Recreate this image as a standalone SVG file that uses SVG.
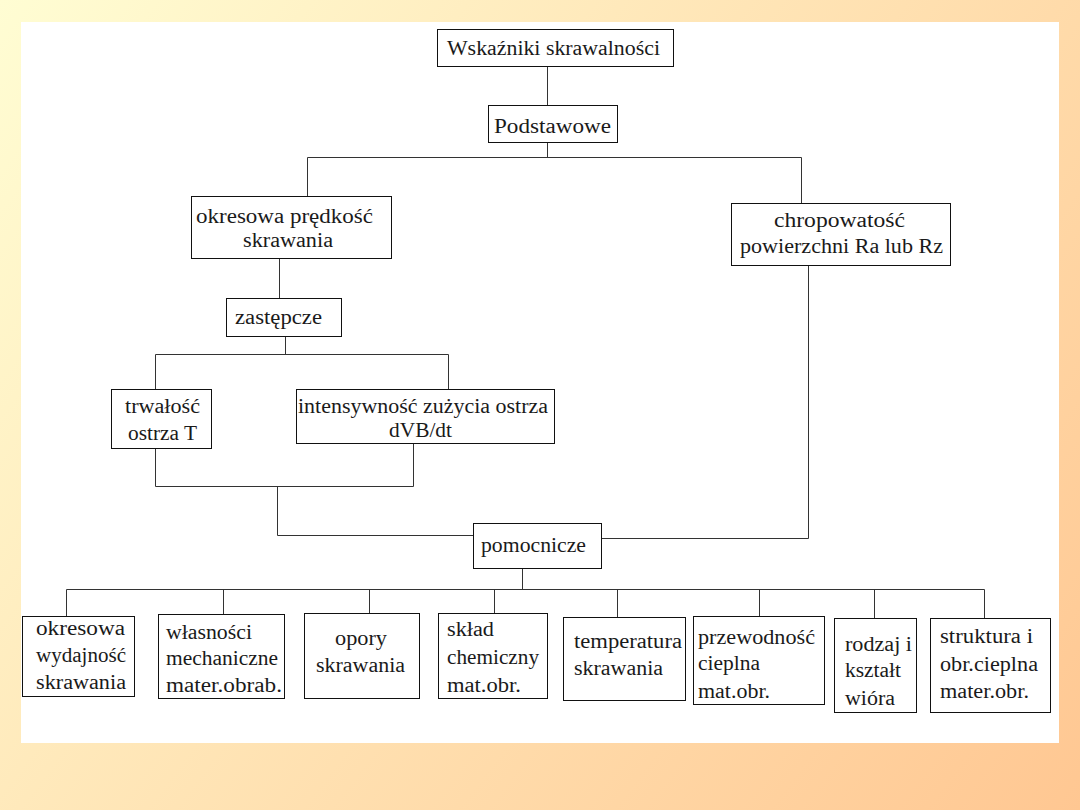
<svg xmlns="http://www.w3.org/2000/svg" width="1080" height="810" viewBox="0 0 1080 810">
<defs>
<linearGradient id="bg" x1="0" y1="0" x2="1080" y2="810" gradientUnits="userSpaceOnUse">
<stop offset="0" stop-color="#FFFDD3"/>
<stop offset="1" stop-color="#FFC792"/>
</linearGradient>
<style>
.box{fill:#fff;stroke:#111;stroke-width:1}
.ln{fill:none;stroke:#333;stroke-width:1}
text{font-family:"Liberation Serif","Times New Roman",serif;font-size:20px;fill:#1a1a1a}
</style>
</defs>
<rect width="1080" height="810" fill="url(#bg)"/>
<rect x="21" y="22" width="1038" height="721" fill="#fff"/>
<g id="connectors">
<path class="ln" d="M547.5,66 V105"/>
<path class="ln" d="M547.5,142 V157.5"/>
<path class="ln" d="M307.5,196 V157.5 H801.5 V203"/>
<path class="ln" d="M279.5,258 V298"/>
<path class="ln" d="M285.5,336 V354.5"/>
<path class="ln" d="M155.5,389 V354.5 H448.5 V389"/>
<path class="ln" d="M155.5,448 V486.5 H413.5 V443"/>
<path class="ln" d="M277.5,486.5 V535.5 H473"/>
<path class="ln" d="M808.5,265 V538.5 H602"/>
<path class="ln" d="M522.5,569 V589.5"/>
<path class="ln" d="M66.5,589.5 H984.5"/>
<path class="ln" d="M66.5,589.5 V616 M223.5,589.5 V614 M369.5,589.5 V613 M494.5,589.5 V613 M617.5,589.5 V617 M759.5,589.5 V616 M874.5,589.5 V618 M984.5,589.5 V618"/>
</g>
<g id="n-wskazniki">
<rect class="box" x="437.5" y="29.5" width="236" height="37"/>
<text x="447" y="55" textLength="213" lengthAdjust="spacingAndGlyphs">Wskaźniki skrawalności</text>
</g>
<g id="n-podstawowe">
<rect class="box" x="488.5" y="105.5" width="129" height="37"/>
<text x="494" y="133" textLength="117" lengthAdjust="spacingAndGlyphs">Podstawowe</text>
</g>
<g id="n-okresowa-predkosc">
<rect class="box" x="191.5" y="196.5" width="200" height="62"/>
<text x="196" y="223" textLength="177" lengthAdjust="spacingAndGlyphs">okresowa prędkość</text>
<text x="243" y="247" textLength="90" lengthAdjust="spacingAndGlyphs">skrawania</text>
</g>
<g id="n-chropowatosc">
<rect class="box" x="731.5" y="203.5" width="219" height="62"/>
<text x="774" y="227" textLength="131" lengthAdjust="spacingAndGlyphs">chropowatość</text>
<text x="740" y="253" textLength="203" lengthAdjust="spacingAndGlyphs">powierzchni Ra lub Rz</text>
</g>
<g id="n-zastepcze">
<rect class="box" x="226.5" y="298.5" width="115" height="38"/>
<text x="235" y="324" textLength="87" lengthAdjust="spacingAndGlyphs">zastępcze</text>
</g>
<g id="n-trwalosc">
<rect class="box" x="111.5" y="389.5" width="100" height="59"/>
<text x="125" y="413" textLength="75" lengthAdjust="spacingAndGlyphs">trwałość</text>
<text x="128" y="440" textLength="69" lengthAdjust="spacingAndGlyphs">ostrza T</text>
</g>
<g id="n-intensywnosc">
<rect class="box" x="296.5" y="389.5" width="258" height="54"/>
<text x="298" y="413" textLength="250" lengthAdjust="spacingAndGlyphs">intensywność zużycia ostrza</text>
<text x="389" y="437" textLength="63" lengthAdjust="spacingAndGlyphs">dVB/dt</text>
</g>
<g id="n-pomocnicze">
<rect class="box" x="473.5" y="523.5" width="128" height="45"/>
<text x="481" y="552" textLength="105" lengthAdjust="spacingAndGlyphs">pomocnicze</text>
</g>
<g id="n-wydajnosc">
<rect class="box" x="22.5" y="616.5" width="112" height="80"/>
<text x="36" y="635" textLength="89" lengthAdjust="spacingAndGlyphs">okresowa</text>
<text x="36" y="662" textLength="90" lengthAdjust="spacingAndGlyphs">wydajność</text>
<text x="36" y="689" textLength="90" lengthAdjust="spacingAndGlyphs">skrawania</text>
</g>
<g id="n-wlasnosci">
<rect class="box" x="158.5" y="614.5" width="126" height="84"/>
<text x="166" y="639" textLength="86" lengthAdjust="spacingAndGlyphs">własności</text>
<text x="166" y="665" textLength="112" lengthAdjust="spacingAndGlyphs">mechaniczne</text>
<text x="166" y="692" textLength="116" lengthAdjust="spacingAndGlyphs">mater.obrab.</text>
</g>
<g id="n-opory">
<rect class="box" x="304.5" y="613.5" width="115" height="85"/>
<text x="335" y="645" textLength="52" lengthAdjust="spacingAndGlyphs">opory</text>
<text x="316" y="672" textLength="89" lengthAdjust="spacingAndGlyphs">skrawania</text>
</g>
<g id="n-sklad">
<rect class="box" x="438.5" y="613.5" width="109" height="85"/>
<text x="447" y="636" textLength="47" lengthAdjust="spacingAndGlyphs">skład</text>
<text x="447" y="664" textLength="92" lengthAdjust="spacingAndGlyphs">chemiczny</text>
<text x="447" y="692" textLength="74" lengthAdjust="spacingAndGlyphs">mat.obr.</text>
</g>
<g id="n-temperatura">
<rect class="box" x="563.5" y="617.5" width="122" height="83"/>
<text x="574" y="648" textLength="108" lengthAdjust="spacingAndGlyphs">temperatura</text>
<text x="574" y="675" textLength="89" lengthAdjust="spacingAndGlyphs">skrawania</text>
</g>
<g id="n-przewodnosc">
<rect class="box" x="693.5" y="616.5" width="131" height="88"/>
<text x="698" y="644" textLength="117" lengthAdjust="spacingAndGlyphs">przewodność</text>
<text x="698" y="670" textLength="62" lengthAdjust="spacingAndGlyphs">cieplna</text>
<text x="698" y="698" textLength="72" lengthAdjust="spacingAndGlyphs">mat.obr.</text>
</g>
<g id="n-rodzaj">
<rect class="box" x="834.5" y="618.5" width="82" height="94"/>
<text x="845" y="651" textLength="67" lengthAdjust="spacingAndGlyphs">rodzaj i</text>
<text x="845" y="677" textLength="56" lengthAdjust="spacingAndGlyphs">kształt</text>
<text x="845" y="705" textLength="50" lengthAdjust="spacingAndGlyphs">wióra</text>
</g>
<g id="n-struktura">
<rect class="box" x="930.5" y="618.5" width="120" height="94"/>
<text x="940" y="643" textLength="93" lengthAdjust="spacingAndGlyphs">struktura  i</text>
<text x="940" y="671" textLength="98" lengthAdjust="spacingAndGlyphs">obr.cieplna</text>
<text x="940" y="698" textLength="89" lengthAdjust="spacingAndGlyphs">mater.obr.</text>
</g>
</svg>
